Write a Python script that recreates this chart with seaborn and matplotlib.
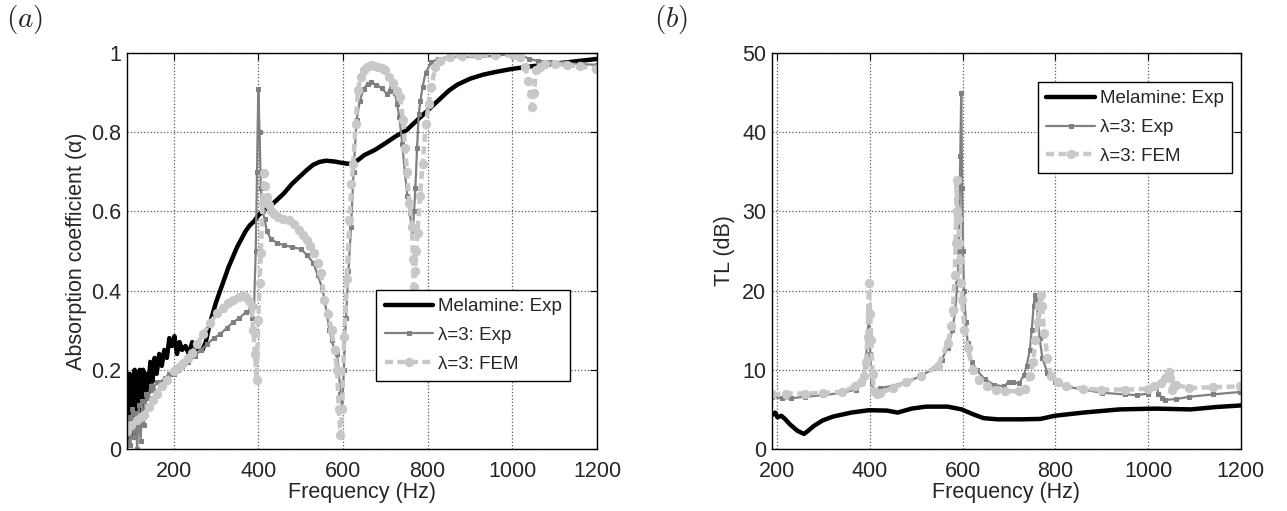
import matplotlib
matplotlib.use("Agg")
import matplotlib.pyplot as plt
import seaborn as sns

# ---- (a) absorption coefficient ----
mel_a_f = [90, 93, 96, 99, 102, 105, 108, 111, 114, 117, 120, 124, 128, 132, 136, 140, 145, 150, 155, 160,
           166, 172, 178, 184, 190, 196, 202, 208, 214, 220, 228, 236, 244, 252, 260, 268, 276, 284, 292, 300,
           310, 320, 330, 340, 350, 360, 370, 380, 390, 400, 415, 430, 445, 460, 480, 500, 515, 530, 545, 560,
           580, 600, 615, 630, 650, 675, 700, 725, 750, 770, 790, 810, 830, 850, 870, 900, 930, 960, 1000, 1050,
           1100, 1150, 1200]
mel_a = [0.15, 0.02, 0.19, 0.05, 0.18, 0.03, 0.2, 0.08, 0.19, 0.06, 0.2, 0.1, 0.2, 0.12, 0.19, 0.14, 0.22, 0.17, 0.23, 0.19,
         0.24, 0.21, 0.25, 0.23, 0.28, 0.26, 0.285, 0.24, 0.27, 0.25, 0.26, 0.24, 0.27, 0.25, 0.26, 0.25, 0.27, 0.31, 0.34, 0.37,
         0.40, 0.43, 0.46, 0.485, 0.51, 0.53, 0.55, 0.565, 0.575, 0.59, 0.605, 0.615, 0.63, 0.645, 0.67, 0.69, 0.705, 0.718, 0.725, 0.728,
         0.726, 0.722, 0.72, 0.725, 0.742, 0.755, 0.772, 0.79, 0.805, 0.825, 0.845, 0.865, 0.885, 0.905, 0.92, 0.935, 0.945, 0.952, 0.96, 0.967,
         0.973, 0.979, 0.985]

exp_a_f = [90, 94, 98, 102, 106, 110, 114, 118, 122, 126, 130, 135, 140, 146, 152, 160, 170, 180, 190, 200,
           210, 220, 235, 250, 265, 280, 295, 310, 325, 340, 355, 370, 380, 386, 390, 394, 397, 400, 403, 406,
           410, 415, 420, 430, 445, 460, 480, 500, 515, 530, 540, 550, 556, 562, 568, 573, 580, 586, 590, 594,
           598, 602, 607, 613, 619, 625, 632, 640, 649, 658, 666, 678, 691, 703, 710, 716, 722, 728, 733, 740,
           746, 752, 758, 762, 765, 768, 771, 775, 779, 783, 788, 795, 809, 825, 850, 880, 920, 960, 1000, 1020,
           1040, 1060, 1090, 1120, 1160, 1200]
exp_a = [0.02, 0.08, 0.01, 0.1, 0.03, 0.09, 0.0, 0.11, 0.02, 0.12, 0.06, 0.14, 0.13, 0.16, 0.15, 0.17, 0.17, 0.18, 0.19, 0.19,
         0.2, 0.21, 0.22, 0.235, 0.25, 0.265, 0.28, 0.29, 0.305, 0.32, 0.33, 0.345, 0.35, 0.33, 0.36, 0.5, 0.7, 0.91, 0.8, 0.66,
         0.6, 0.58, 0.55, 0.53, 0.52, 0.515, 0.51, 0.505, 0.49, 0.47, 0.44, 0.41, 0.38, 0.34, 0.3, 0.276, 0.25, 0.24, 0.2, 0.14,
         0.107, 0.2, 0.33, 0.45, 0.56, 0.7, 0.83, 0.88, 0.91, 0.922, 0.927, 0.92, 0.912, 0.897, 0.905, 0.93, 0.9, 0.87, 0.839, 0.77,
         0.7, 0.64, 0.595, 0.56, 0.553, 0.6, 0.66, 0.76, 0.847, 0.88, 0.914, 0.95, 0.977, 0.985, 0.99, 0.99, 0.99, 0.993, 0.998, 0.995,
         0.985, 0.98, 0.978, 0.975, 0.972, 0.97]

fem_a_f = [90, 100, 113, 122, 130, 143, 152, 160, 172, 185, 202, 213, 223, 234, 244, 256, 269, 286, 303, 316,
           328, 340, 354, 365, 371, 378, 384, 388, 392, 396, 400, 403, 406, 410, 413, 417, 421, 426, 430, 438,
           446, 459, 472, 485, 497, 506, 514, 522, 531, 540, 548, 556, 565, 573, 580, 586, 590, 594, 598, 603,
           609, 615, 620, 624, 630, 635, 642, 649, 657, 666, 674, 683, 691, 700, 709, 718, 727, 735, 742, 747,
           751, 757, 763, 765, 767, 770, 773, 776, 782, 788, 796, 802, 809, 818, 830, 852, 880, 920, 960, 1001,
           1018, 1030, 1038, 1043, 1047, 1051, 1056, 1065, 1077, 1100, 1130, 1160, 1198]
fem_a = [0.045, 0.06, 0.074, 0.08, 0.087, 0.107, 0.125, 0.14, 0.16, 0.175, 0.196, 0.207, 0.217, 0.23, 0.242, 0.265, 0.29, 0.318, 0.343, 0.357,
         0.368, 0.377, 0.385, 0.388, 0.385, 0.375, 0.36, 0.3, 0.24, 0.175, 0.326, 0.42, 0.494, 0.62, 0.696, 0.665, 0.637, 0.615, 0.6, 0.593,
         0.587, 0.582, 0.578, 0.567, 0.553, 0.54, 0.528, 0.512, 0.494, 0.47, 0.444, 0.376, 0.34, 0.3, 0.25, 0.2, 0.1, 0.035, 0.1, 0.284,
         0.43, 0.578, 0.67, 0.72, 0.82, 0.906, 0.94, 0.956, 0.965, 0.969, 0.968, 0.965, 0.962, 0.956, 0.94, 0.923, 0.905, 0.889, 0.83, 0.76,
         0.7, 0.62, 0.561, 0.48, 0.41, 0.45, 0.5, 0.546, 0.64, 0.72, 0.82, 0.87, 0.914, 0.965, 0.98, 0.99, 0.993, 0.995, 0.995, 0.994,
         0.99, 0.965, 0.93, 0.897, 0.864, 0.9, 0.956, 0.965, 0.973, 0.972, 0.97, 0.966, 0.96]

# ---- (b) transmission loss ----
mel_b_f = [190, 196, 201, 209, 217, 228, 244, 258, 267, 279, 298, 321, 360, 398, 437, 460, 490, 521, 568, 598,
           622, 645, 675, 729, 768, 799, 860, 938, 1015, 1092, 1146, 1200]
mel_b = [4.3, 4.6, 4.0, 4.2, 3.8, 3.1, 2.3, 1.9, 2.3, 2.9, 3.6, 4.1, 4.6, 4.9, 4.85, 4.6, 5.1, 5.35, 5.35, 5.0,
         4.4, 3.9, 3.75, 3.75, 3.8, 4.2, 4.6, 5.0, 5.1, 5.0, 5.3, 5.5]

exp_b_f = [190, 210, 230, 260, 300, 340, 370, 383, 390, 394, 398, 401, 404, 408, 415, 423, 450, 480, 510, 538,
           555, 568, 578, 584, 589, 592, 595, 597, 599, 601, 603, 607, 611, 620, 630, 648, 668, 690, 699, 708,
           722, 732, 738, 745, 749, 753, 756, 759, 762, 766, 772, 783, 800, 822, 860, 900, 950, 975, 1000, 1013,
           1018, 1022, 1030, 1036, 1060, 1089, 1140, 1198]
exp_b = [6.6, 6.4, 6.4, 6.6, 6.8, 7.1, 7.5, 8.3, 10.5, 13, 17, 12, 8.5, 7.2, 7.5, 7.7, 8.0, 8.5, 9.2, 10.2,
         11.3, 12.8, 15, 17.5, 21, 25, 37, 45, 33, 25, 20, 16, 13.4, 11, 10, 8.8, 8.1, 7.9, 8.5, 8.4,
         8.3, 9.3, 10.5, 12.5, 15, 18, 19.5, 19, 17, 14, 11.5, 9.6, 8.4, 7.9, 7.5, 7.1, 6.9, 6.8, 7.0, 7.9,
         8.0, 7.0, 6.5, 6.2, 6.3, 6.6, 6.9, 7.2]

fem_b_f = [190, 220, 260, 300, 340, 368, 380, 387, 392, 395, 398, 401, 403, 406, 409, 415, 423, 450, 477, 510,
           547, 568, 576, 579, 583, 585, 587, 589, 591, 593, 595, 597, 599, 604, 611, 622, 635, 653, 672, 691,
           722, 735, 745, 752, 757, 762, 765, 768, 771, 776, 783, 791, 805, 822, 860, 898, 950, 1000, 1013, 1028,
           1036, 1044, 1048, 1052, 1056, 1059, 1089, 1140, 1198]
fem_b = [6.9, 7.0, 7.0, 7.1, 7.2, 7.9, 8.5, 9.2, 11, 14.2, 21, 17, 13.8, 9.5, 7.3, 6.9, 7.1, 7.7, 8.4, 9.2,
         10.5, 13.4, 15.5, 17.6, 22, 26, 34, 30, 29, 26, 23.9, 21, 18.8, 15, 12.7, 10, 8.7, 7.9, 7.5, 7.3,
         7.3, 7.6, 9.2, 11, 13.8, 16, 18, 19.5, 18, 14.7, 11.5, 9.2, 8.4, 7.9, 7.6, 7.5, 7.5, 7.6, 7.9, 8.3,
         9.0, 9.7, 9.0, 7.5, 7.9, 8.1, 7.7, 7.8, 7.9]

labels = ['Melamine: Exp', 'λ=3: Exp', 'λ=3: FEM']
a_yticks = [0, 0.2, 0.4, 0.6, 0.8, 1]
a_yticklabels = ['0', '0.2', '0.4', '0.6', '0.8', '1']
b_yticks = [0, 10, 20, 30, 40, 50]
xticks = [200, 400, 600, 800, 1000, 1200]

sns.set_style('white')
plt.rcParams['font.family'] = ['Liberation Sans', 'DejaVu Sans']
plt.rcParams['mathtext.fontset'] = 'cm'

fig = plt.figure(figsize=(12.87, 5.11), dpi=100)
ax1 = fig.add_axes([0.0987, 0.1213, 0.3652, 0.775])
ax2 = fig.add_axes([0.5998, 0.1213, 0.3644, 0.775])

black = '#000000'
grey = '#808080'
light = '#c8c8c8'


def draw(ax, f1, y1, f2, y2, f3, y3):
    sns.lineplot(x=f1, y=y1, ax=ax, color=black, lw=3.2, sort=False, estimator=None, label=labels[0])
    sns.lineplot(x=f2, y=y2, ax=ax, color=grey, lw=1.6, marker='s', markersize=3.5,
                 markeredgecolor=grey, markerfacecolor=grey, sort=False, estimator=None, label=labels[1])
    sns.lineplot(x=f3, y=y3, ax=ax, color=light, lw=3.2, linestyle=(0, (1.8, 1.0)), marker='o',
                 markersize=6, markeredgecolor=light, markerfacecolor=light,
                 sort=False, estimator=None, label=labels[2])


draw(ax1, mel_a_f, mel_a, exp_a_f, exp_a, fem_a_f, fem_a)
draw(ax2, mel_b_f, mel_b, exp_b_f, exp_b, fem_b_f, fem_b)

for ax in (ax1, ax2):
    ax.grid(True, linestyle=':', color='0.35', lw=0.9)
    ax.set_xticks(xticks)
    ax.tick_params(direction='in', top=True, right=True, labelsize=15.5, length=5, color='black')
    ax.tick_params(axis='x', pad=8.5)
    ax.tick_params(axis='y', pad=4)
    for s in ax.spines.values():
        s.set_color('black')
        s.set_linewidth(1.0)
    ax.set_xlabel('Frequency (Hz)', fontsize=15.5, labelpad=0)

ax1.set_xlim(90, 1200)
ax1.set_ylim(0, 1)
ax1.set_yticks(a_yticks)
ax1.set_yticklabels(a_yticklabels)
ax1.set_ylabel('Absorption coefficient (α)', fontsize=15.5)
ax1.yaxis.set_label_coords(-0.085, 0.5)

ax2.set_xlim(189, 1200)
ax2.set_ylim(0, 50)
ax2.set_yticks(b_yticks)
ax2.set_ylabel('TL (dB)', fontsize=15.5)
ax2.yaxis.set_label_coords(-0.079, 0.5)

leg_kw = dict(fontsize=13.5, frameon=True, fancybox=False, shadow=False, framealpha=1,
              edgecolor='black', borderpad=0.45, labelspacing=0.62, handlelength=2.6,
              handletextpad=0.25, borderaxespad=0, loc='upper left')
l1 = ax1.legend(bbox_to_anchor=(0.53, 0.4025), **leg_kw)
l2 = ax2.legend(bbox_to_anchor=(0.567, 0.927), **leg_kw)
for lg in (l1, l2):
    lg.get_frame().set_linewidth(1.0)

fig.text(0.005, 0.995, '$(a)$', fontsize=21, va='top', ha='left')
fig.text(0.508, 0.995, '$(b)$', fontsize=21, va='top', ha='left')

fig.savefig('out.png', dpi=100)
